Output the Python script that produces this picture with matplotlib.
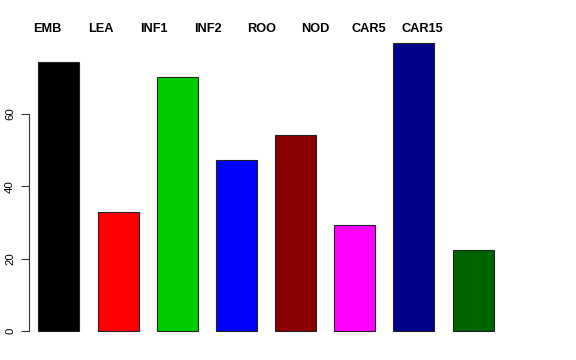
import matplotlib
matplotlib.use("Agg")
import matplotlib.pyplot as plt
import numpy as np

# --- DATA ---
tissues = ["EMB", "LEA", "INF1", "INF2", "ROO", "NOD", "CAR5", "CAR15"]
values = [74.4, 32.9, 70.2, 47.3, 54.2, 29.3, 79.6, 22.4]
bar_colors = ["#000000", "#FF0000", "#00CD00", "#0000FF",
              "#8B0000", "#FF00FF", "#00008B", "#006400"]
y_ticks = [0, 20, 40, 60]

plt.rcParams["font.family"] = ["Liberation Sans", "DejaVu Sans"]

fig = plt.figure(figsize=(5.76, 3.6), dpi=100)
# plot region placed like the R device margins
ax = fig.add_axes([29 / 576, 15 / 360, 474 / 576, 305 / 360])

x = np.arange(len(tissues))
ax.bar(x, values, width=0.693, color=bar_colors,
       edgecolor="#222222", linewidth=0.8)

ax.set_xlim(-0.507, 7.507)
ax.set_ylim(-3.87, 80.45)

# R-style axis: only the left one, line spanning the tick range
for side in ["top", "right", "bottom"]:
    ax.spines[side].set_visible(False)
ax.spines["left"].set_bounds(0, 60)
ax.spines["left"].set_color("#333333")
ax.set_xticks([])
ax.set_yticks(y_ticks)
ax.set_yticklabels([str(t) for t in y_ticks], rotation=90, va="center",
                   fontsize=8.2)
ax.tick_params(axis="y", length=6, width=0.8, color="#333333", pad=4)

# tissue names across the top
label_x = -0.203 + 0.907 * x
for lx, name in zip(label_x, tissues):
    ax.text(lx, 83.4, name, ha="center", va="center", fontsize=9.2,
            fontweight="bold", clip_on=False)

fig.savefig("out.png", dpi=100)
